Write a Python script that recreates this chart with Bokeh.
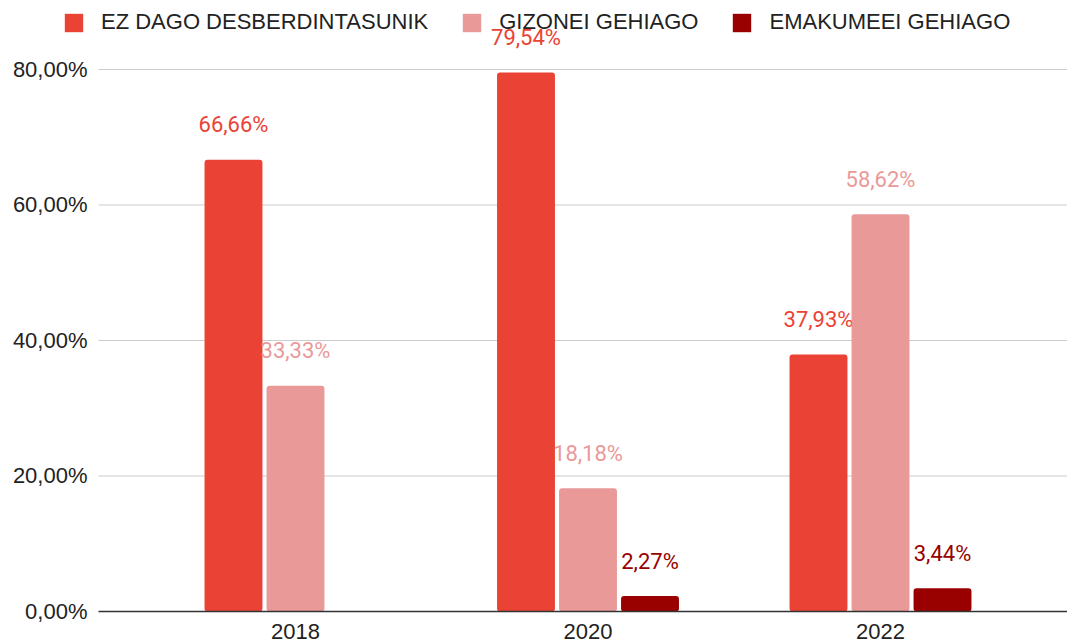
import math
from bokeh.plotting import figure
from bokeh.models import Range1d, FixedTicker, Legend, LegendItem, ColumnDataSource
from bokeh.core.properties import value
from bokeh.embed import file_html
from bokeh.resources import INLINE

years = ["2018", "2020", "2022"]
series_names = ["EZ DAGO DESBERDINTASUNIK", "GIZONEI GEHIAGO", "EMAKUMEEI GEHIAGO"]
ez_dago = [66.66, 79.54, 37.93]
gizonei = [33.33, 18.18, 58.62]
emakumeei = [float("nan"), 2.27, 3.44]
y_ticks = [0, 20, 40, 60, 80]
colors = ["#EA4335", "#EA9999", "#990000"]

series = [ez_dago, gizonei, emakumeei]

W, H = 1067, 643
X0, X1 = -1.00855, 2.6393      # x range of the plot frame
Y0, Y1 = -4.723, 90.18         # y range of the plot frame
AX_X = -0.6735                 # where the value axis sits
p = figure(width=W, height=H, output_backend="svg", toolbar_location=None,
           x_range=Range1d(X0, X1), y_range=Range1d(Y0, Y1),
           min_border_left=0, min_border_right=0, min_border_top=0, min_border_bottom=0)
p.outline_line_color = None
p.background_fill_color = "white"
p.border_fill_color = "white"

# grid lines (start at the value axis)
p.xgrid.visible = False
p.ygrid.visible = False
p.segment(x0=[AX_X] * len(y_ticks[1:]), x1=[X1] * len(y_ticks[1:]),
          y0=y_ticks[1:], y1=y_ticks[1:], line_color="#CCCCCC", line_width=1)

bar_w = 0.198
step = 0.212
xs = list(range(len(years)))
items = []
for i, (name, vals, col) in enumerate(zip(series_names, series, colors)):
    off = (i - 1) * step
    xpos = [x + off for x in xs]
    src = ColumnDataSource(dict(x=xpos, top=vals))
    r = p.vbar(x="x", top="top", width=bar_w, bottom=0, source=src,
               fill_color=col, line_color=None, border_radius=3)
    items.append(LegendItem(label=name, renderers=[r]))
    lx, ly, lt = [], [], []
    for xx, v in zip(xpos, vals):
        if v is None or (isinstance(v, float) and math.isnan(v)):
            continue
        lx.append(xx)
        ly.append(v)
        lt.append(f"{v:.2f}".replace(".", ",") + "%")
    lsrc = ColumnDataSource(dict(x=lx, y=ly, t=lt))
    p.text(x="x", y="y", text="t", source=lsrc, text_color=col,
           text_font=value("Roboto"), text_font_size="22px",
           text_align="center", text_baseline="middle", y_offset=-35)

legend = Legend(items=items, orientation="horizontal", location=(62, 608),
                glyph_width=23, glyph_height=23, label_height=23,
                label_standoff=16, spacing=32, padding=0, margin=0,
                label_text_font="Liberation Sans", label_text_font_size="22px",
                label_text_color="#222222", border_line_color=None,
                background_fill_alpha=0)
p.add_layout(legend, "center")

# y axis
p.yaxis.fixed_location = AX_X
p.yaxis.ticker = FixedTicker(ticks=y_ticks)
p.yaxis.major_label_overrides = {t: f"{t:.2f}".replace(".", ",") + "%" for t in y_ticks}
p.yaxis.axis_line_color = None
p.yaxis.major_tick_line_color = None
p.yaxis.major_tick_out = 0
p.yaxis.major_tick_in = 0
p.yaxis.minor_tick_line_color = None
p.yaxis.minor_tick_out = 0
p.yaxis.major_label_standoff = 11
p.yaxis.major_label_text_font = "Liberation Sans"
p.yaxis.major_label_text_font_size = "22px"
p.yaxis.major_label_text_color = "#222222"

# x axis
p.xaxis.fixed_location = 0
p.xaxis.ticker = FixedTicker(ticks=xs)
p.xaxis.bounds = (AX_X, X1)
p.xaxis.major_label_overrides = {i: y for i, y in enumerate(years)}
p.xaxis.axis_line_color = "#333333"
p.xaxis.axis_line_width = 1.5
p.xaxis.major_tick_line_color = None
p.xaxis.major_tick_out = 0
p.xaxis.major_tick_in = 0
p.xaxis.minor_tick_line_color = None
p.xaxis.minor_tick_out = 0
p.xaxis.major_label_standoff = 12
p.xaxis.major_label_text_font = "Liberation Sans"
p.xaxis.major_label_text_font_size = "22px"
p.xaxis.major_label_text_color = "#222222"

open("out.html", "w").write(file_html(p, INLINE))
